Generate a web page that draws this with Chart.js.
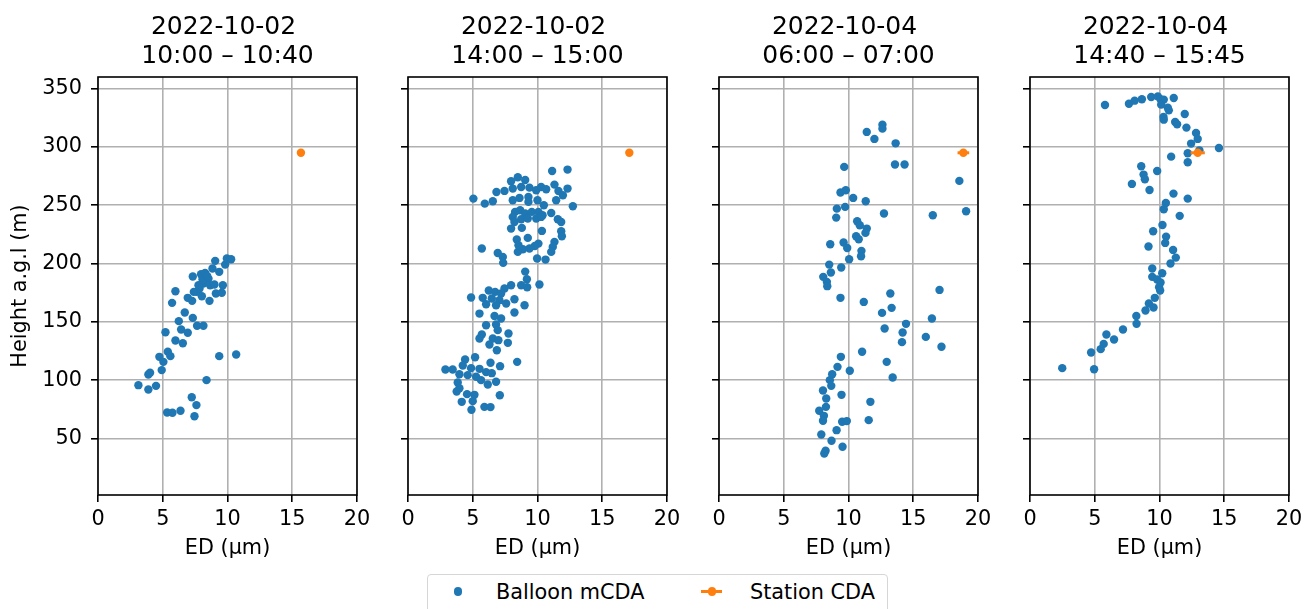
<!DOCTYPE html>
<html>
<head>
<meta charset="utf-8">
<title>Balloon mCDA vs station CDA</title>
<script src="https://cdn.jsdelivr.net/npm/chart.js@4.4.1/dist/chart.umd.min.js"></script>
<style>
  html, body { margin: 0; padding: 0; background: #fff; }
  #figure { position: relative; width: 1304px; height: 609px; overflow: hidden; background: #fff; font-family: 'DejaVu Sans', sans-serif; }
  .panel { position: absolute; top: 0; }
  #legend { position: absolute; left: 427px; top: 574px; width: 461px; height: 50px; box-sizing: border-box;
            border: 1.5px solid #d6d6d6; border-radius: 4px; background: #fff; }
  .lg-text { position: absolute; font-size: 20.8px; line-height: 24px; color: #000; white-space: nowrap; }
  .lg-dot { position: absolute; width: 8.4px; height: 8.4px; border-radius: 50%; }
  .lg-line { position: absolute; height: 3px; }
</style>
</head>
<body>
<div id="figure">
  <div id="legend">
    <div class="lg-dot" style="left:25.5px; top:12.3px; background:#1f77b4"></div>
    <div class="lg-text" style="left:68px; top:4.5px">Balloon mCDA</div>
    <div class="lg-line" style="left:273px; top:15px; width:21px; background:#ff7f0e"></div>
    <div class="lg-dot" style="left:279.5px; top:12.3px; background:#ff7f0e"></div>
    <div class="lg-text" style="left:322px; top:4.5px">Station CDA</div>
  </div>
</div>
<script>
// panel titles: flight date and time window
const panelTitles = [
  ['2022-10-02 ', '10:00 – 10:40'],
  ['2022-10-02 ', '14:00 – 15:00'],
  ['2022-10-04 ', '06:00 – 07:00'],
  ['2022-10-04 ', '14:40 – 15:45']
];
const xTicks = [0, 5, 10, 15, 20];
const yTicks = [50, 100, 150, 200, 250, 300, 350];

// balloon mCDA profiles: effective diameter (µm) and height a.g.l (m)
const ed1 = [3.12, 3.89, 4.48, 3.89, 4.02, 4.92, 4.74, 5.05, 5.39, 5.59, 5.21, 5.98, 6.55, 6.24, 6.42, 6.93, 6.70, 7.32, 7.65, 8.14,
  9.36, 10.67, 8.38, 7.24, 7.60, 7.45, 5.34, 5.75, 6.37, 5.72, 5.98, 6.93, 7.27, 7.32, 7.63, 7.84, 8.02, 8.14, 7.96, 8.27,
  8.61, 8.53, 8.66, 8.99, 8.84, 9.05, 9.36, 9.10, 9.56, 9.64, 9.82, 9.95, 10.28, 7.40, 7.76, 8.07, 8.43];
const h1 = [95.7, 92.0, 95.1, 104.9, 106.3, 108.6, 120.0, 115.7, 124.3, 120.6, 141.1, 134.0, 131.7, 150.6, 143.4, 140.6, 158.0, 153.4, 146.6, 146.6,
  120.6, 122.0, 100.0, 85.4, 78.6, 69.1, 72.3, 72.0, 73.7, 166.3, 176.3, 170.6, 168.0, 188.9, 175.7, 178.6, 172.0, 182.9, 190.9, 192.0,
  168.0, 187.1, 181.4, 182.0, 195.7, 202.3, 192.9, 174.3, 174.9, 181.4, 199.1, 204.3, 203.7, 175.7, 181.4, 186.6, 189.4];

const ed2 = [11.13, 12.32, 7.96, 8.48, 9.05, 6.83, 7.45, 8.09, 8.74, 9.38, 5.05, 5.93, 6.55, 8.09, 8.61, 9.30, 9.90, 10.28, 10.67, 11.31,
  11.62, 11.96, 11.44, 12.32, 12.73, 9.30, 10.00, 10.49, 8.27, 8.66, 9.05, 9.56, 10.07, 10.39, 11.06, 11.57, 11.83, 8.09, 8.22, 8.74,
  9.25, 9.90, 10.28, 8.79, 7.96, 10.34, 11.83, 11.88, 8.40, 9.25, 11.31, 11.18, 10.07, 9.79, 9.38, 8.87, 8.48, 8.53, 11.06, 5.70,
  6.93, 7.32, 7.35, 9.97, 10.62, 9.05, 9.18, 9.20, 8.74, 10.15, 7.96, 7.45, 6.24, 6.73, 7.19, 4.87, 5.77, 6.47, 7.06, 6.03,
  6.80, 7.58, 8.22, 9.00, 5.52, 8.22, 6.68, 7.19, 6.03, 6.80, 6.93, 7.76, 5.70, 5.52, 6.55, 6.98, 7.71, 6.29, 6.86, 8.43,
  7.11, 2.89, 3.45, 4.41, 5.18, 6.37, 4.23, 4.87, 5.52, 6.03, 6.47, 3.97, 4.61, 5.26, 5.64, 6.16, 6.80, 3.84, 3.97, 3.76,
  4.56, 5.13, 7.09, 4.15, 5.00, 5.90, 6.37, 4.90];
const h2 = [279.4, 280.6, 270.6, 274.0, 271.7, 261.4, 262.3, 264.3, 265.7, 265.1, 255.7, 251.4, 253.4, 254.3, 256.3, 257.1, 262.9, 265.7, 263.7, 267.7,
  262.3, 258.6, 254.3, 264.3, 249.1, 252.9, 254.3, 250.0, 244.3, 245.7, 242.9, 244.3, 244.3, 241.4, 243.4, 238.0, 235.7, 240.0, 235.7, 238.0,
  238.6, 238.6, 240.0, 230.6, 230.0, 228.0, 227.7, 223.4, 220.6, 222.0, 218.6, 214.3, 217.1, 215.1, 212.9, 212.3, 210.0, 215.7, 210.0, 212.9,
  209.1, 205.7, 200.6, 204.3, 203.4, 193.1, 186.6, 179.7, 181.4, 182.0, 181.4, 178.6, 176.9, 175.7, 174.3, 170.9, 170.6, 170.0, 168.6, 165.1,
  164.3, 165.7, 169.4, 164.3, 157.1, 158.0, 155.0, 152.9, 147.1, 147.7, 142.9, 140.0, 139.1, 135.7, 135.7, 134.3, 132.0, 130.6, 125.7, 115.7,
  112.0, 109.1, 109.1, 117.7, 119.7, 114.9, 112.6, 110.3, 109.7, 106.9, 106.0, 105.1, 104.3, 102.9, 100.0, 96.3, 98.6, 98.0, 93.1, 90.3,
  88.0, 87.4, 87.1, 81.4, 82.0, 77.1, 76.9, 74.6];

const ed3 = [11.41, 12.00, 12.62, 12.62, 13.64, 13.59, 14.33, 18.56, 19.08, 16.51, 12.74, 9.67, 9.38, 9.79, 10.36, 11.33, 9.10, 9.74, 9.05, 10.67,
  10.87, 11.41, 11.31, 10.59, 10.79, 8.59, 9.62, 9.90, 11.00, 10.97, 10.05, 8.51, 8.64, 9.44, 8.05, 8.33, 8.36, 9.38, 11.18, 13.23,
  17.03, 13.33, 12.59, 16.44, 14.44, 12.79, 14.18, 14.13, 15.97, 17.18, 11.05, 9.41, 9.15, 10.10, 12.95, 13.41, 8.74, 8.56, 8.67, 8.03,
  9.46, 8.28, 11.69, 8.26, 7.74, 8.10, 8.03, 9.51, 9.87, 11.56, 9.08, 7.90, 8.69, 9.54, 8.23, 8.13];
const h3 = [312.9, 306.9, 319.1, 315.7, 303.1, 284.9, 284.9, 270.9, 244.9, 241.4, 242.9, 282.9, 260.9, 262.9, 256.3, 253.4, 247.1, 248.6, 239.4, 236.3,
  232.9, 230.0, 226.3, 223.4, 220.9, 216.6, 218.0, 213.4, 210.9, 206.3, 203.7, 199.1, 192.3, 196.6, 188.6, 184.3, 180.6, 170.6, 167.1, 174.3,
  177.4, 162.0, 157.7, 152.9, 148.3, 144.3, 140.9, 132.6, 137.1, 128.6, 124.3, 120.0, 111.4, 108.0, 115.7, 102.3, 105.1, 100.0, 95.1, 91.1,
  87.4, 84.3, 81.4, 77.1, 73.7, 69.4, 65.1, 64.3, 64.9, 65.7, 57.1, 53.4, 48.0, 42.9, 39.4, 37.1];

const ed4 = [5.79, 7.64, 8.08, 8.64, 9.36, 9.87, 10.08, 10.33, 10.13, 11.10, 10.64, 10.72, 11.95, 10.31, 10.33, 11.21, 11.36, 12.08, 12.82, 12.95,
  12.44, 14.59, 13.08, 12.18, 10.90, 12.18, 8.59, 9.82, 8.77, 8.87, 7.87, 9.23, 11.08, 12.18, 10.49, 10.33, 11.56, 10.23, 9.51, 10.51,
  10.44, 9.15, 11.05, 11.26, 10.85, 9.44, 10.21, 9.44, 9.82, 10.08, 9.97, 10.05, 9.64, 9.18, 9.54, 8.92, 8.21, 8.23, 7.18, 5.90,
  6.49, 5.69, 5.46, 4.72, 2.49, 4.95];
const h4 = [336.0, 337.1, 339.7, 340.9, 342.9, 343.4, 340.9, 340.6, 336.3, 342.0, 333.7, 331.4, 328.3, 325.7, 323.4, 321.4, 319.4, 316.6, 312.0, 306.9,
  302.9, 299.1, 297.1, 294.6, 291.7, 286.9, 283.4, 279.4, 276.3, 272.3, 268.3, 263.1, 260.0, 255.7, 252.0, 246.6, 240.9, 233.1, 227.7, 223.1,
  217.7, 214.6, 211.7, 205.1, 200.0, 195.7, 191.7, 188.6, 186.3, 183.7, 179.7, 176.9, 170.6, 165.7, 162.3, 159.7, 155.1, 148.3, 143.4, 139.1,
  134.9, 131.1, 126.6, 123.7, 110.3, 109.4];

const balloonEd = [ed1, ed2, ed3, ed4];
const balloonH = [h1, h2, h3, h4];

// station CDA: mean diameter with its spread, at the station height
const stationEd = [15.67, 17.09, 18.87, 12.95];
const stationH = [295, 295, 295, 295];
const stationErr = [0, 0, 0.45, 0.55];

const BLUE = '#1f77b4';
const ORANGE = '#ff7f0e';
const GRID = '#b0b0b0';
const FONT = 20.8;

// plot-area geometry shared by all four panels
const plotLefts = [98, 408, 719, 1030];
const PLOT_W = 259;
const PLOT_BOTTOM = 495;
const CANVAS_H = 570;
const PAD_R = 24; // room for the half of the "20" label that sticks out

Chart.defaults.font.family = "'DejaVu Sans', sans-serif";
Chart.defaults.color = '#000';

// black box around each plot area, drawn above the markers
const spines = {
  id: 'spines',
  afterDatasetsDraw(chart) {
    const { ctx, chartArea: a } = chart;
    ctx.save();
    ctx.strokeStyle = '#000';
    ctx.lineWidth = 1.6;
    ctx.strokeRect(a.left, a.top, a.right - a.left, a.bottom - a.top);
    ctx.restore();
  }
};

const figure = document.getElementById('figure');

panelTitles.forEach((title, i) => {
  const leftW = i === 0 ? 98 : 12;
  const wrap = document.createElement('div');
  wrap.className = 'panel';
  wrap.style.left = (plotLefts[i] - leftW) + 'px';
  const canvas = document.createElement('canvas');
  canvas.width = leftW + PLOT_W + PAD_R;
  canvas.height = CANVAS_H;
  wrap.appendChild(canvas);
  figure.appendChild(wrap);

  const grid = { color: GRID, lineWidth: 1.6, tickColor: '#000', tickWidth: 1.6, tickLength: 7 };

  new Chart(canvas, {
    type: 'scatter',
    data: {
      datasets: [
        {
          label: 'Station CDA',
          data: [{ x: stationEd[i], y: stationH[i] }],
          backgroundColor: ORANGE,
          borderColor: ORANGE,
          pointRadius: 4.2,
          pointBorderWidth: 0,
          order: 0
        },
        {
          label: 'Station CDA spread',
          data: [
            { x: stationEd[i] - stationErr[i], y: stationH[i] },
            { x: stationEd[i] + stationErr[i], y: stationH[i] }
          ],
          showLine: true,
          borderColor: ORANGE,
          borderWidth: 3,
          pointRadius: 0,
          order: 1
        },
        {
          label: 'Balloon mCDA',
          data: balloonEd[i].map((x, k) => ({ x, y: balloonH[i][k] })),
          backgroundColor: BLUE,
          borderColor: BLUE,
          pointRadius: 4.2,
          pointBorderWidth: 0,
          order: 2
        }
      ]
    },
    options: {
      responsive: false,
      animation: false,
      events: [],
      layout: { padding: { left: 0, right: PAD_R, top: 0, bottom: 0 } },
      plugins: {
        legend: { display: false },
        tooltip: { enabled: false },
        title: {
          display: true,
          text: title,
          fullSize: false,
          color: '#000',
          font: { size: 25, weight: 'normal', lineHeight: 1.15 },
          padding: { top: 13, bottom: 6.5 }
        }
      },
      scales: {
        x: {
          type: 'linear',
          min: 0,
          max: 20,
          afterBuildTicks: s => { s.ticks = xTicks.map(v => ({ value: v })); },
          afterFit: s => { s.height = CANVAS_H - PLOT_BOTTOM; },
          grid: grid,
          border: { display: false },
          ticks: { font: { size: FONT }, padding: 5, maxRotation: 0, autoSkip: false },
          title: { display: true, text: 'ED (µm)', font: { size: FONT }, padding: { top: 0, bottom: 9 } }
        },
        y: {
          type: 'linear',
          min: 1.5,
          max: 360,
          afterBuildTicks: s => { s.ticks = yTicks.map(v => ({ value: v })); },
          afterFit: s => { s.width = leftW; },
          grid: grid,
          border: { display: false },
          ticks: { display: i === 0, font: { size: FONT }, padding: 9 },
          title: { display: i === 0, text: 'Height a.g.l (m)', font: { size: FONT }, padding: { top: 8, bottom: 0 } }
        }
      }
    },
    plugins: [spines]
  });
});
</script>
</body>
</html>
